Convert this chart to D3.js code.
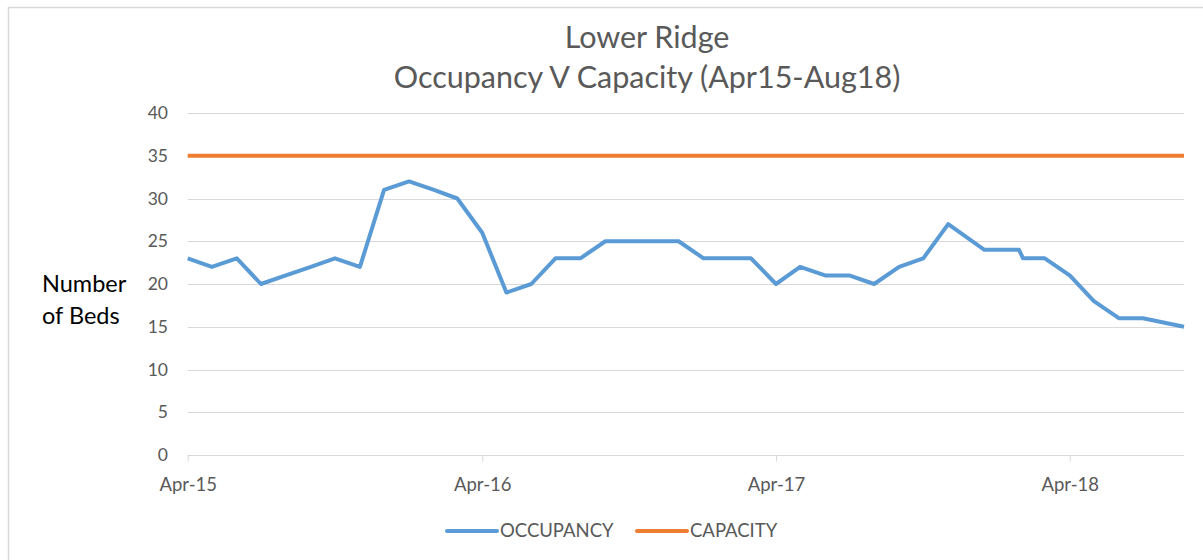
<!DOCTYPE html>
<html>
<head>
<meta charset="utf-8">
<script src="https://cdn.jsdelivr.net/npm/d3@7"></script>
<style>
  html, body { margin: 0; padding: 0; background: #ffffff; }
  svg { display: block; }
</style>
</head>
<body>
<svg id="chart" width="1203" height="560"></svg>
<script>
// ---- Data ----
const titleLines = ["Lower Ridge", "Occupancy V Capacity (Apr15-Aug18)"];
const yAxisTitle = ["Number", "of Beds"];
const dates = [
  "2015-04-01","2015-05-01","2015-06-01","2015-07-01","2015-08-01","2015-09-01",
  "2015-10-01","2015-11-01","2015-12-01","2016-01-01","2016-02-01","2016-03-01",
  "2016-04-01","2016-05-01","2016-06-01","2016-07-01","2016-08-01","2016-09-01",
  "2016-10-01","2016-11-01","2016-12-01","2017-01-01","2017-02-01","2017-03-01",
  "2017-04-01","2017-05-01","2017-06-01","2017-07-01","2017-08-01","2017-09-01",
  "2017-10-01","2017-11-01","2017-12-16","2018-01-28","2018-02-02","2018-03-01",
  "2018-04-01","2018-05-01","2018-06-01","2018-07-01","2018-08-21"
];
const occupancy = [
  23,22,23,20,21,22,
  23,22,31,32,31,30,
  26,19,20,23,23,25,
  25,25,25,23,23,23,
  20,22,21,21,20,22,
  23,27,24,24,23,23,
  21,18,16,16,15
];
const capacity = dates.map(() => 35);
const xTickDates = ["2015-04-01","2016-04-01","2017-04-01","2018-04-01"];
const yTicks = [0,5,10,15,20,25,30,35,40];
const seriesNames = ["OCCUPANCY","CAPACITY"];
const seriesColors = ["#5b9bd5","#ed7d31"];

// ---- Drawing ----
const parse = d3.utcParse("%Y-%m-%d");
const svg = d3.select("#chart");
const font = "Lato, 'Open Sans', sans-serif";
const grey = "#595959";

// chart border
svg.append("path")
  .attr("d", "M8.5,560 L8.5,7.5 L1203,7.5")
  .attr("fill", "none").attr("stroke", "#d9d9d9").attr("stroke-width", 1.5);

const x = d3.scaleUtc()
  .domain([parse(dates[0]), parse(dates[dates.length - 1])])
  .range([187.7, 1184]);
const y = d3.scaleLinear().domain([0, 40]).range([455, 113]);

// gridlines
svg.append("g").selectAll("line").data(yTicks).join("line")
  .attr("x1", x.range()[0]).attr("x2", x.range()[1])
  .attr("y1", d => Math.round(y(d)) + 0.5).attr("y2", d => Math.round(y(d)) + 0.5)
  .attr("stroke", "#d9d9d9").attr("stroke-width", 1);

// y labels
svg.append("g").selectAll("text").data(yTicks).join("text")
  .attr("x", 168).attr("y", d => y(d))
  .attr("dy", "0.35em").attr("text-anchor", "end")
  .attr("font-family", font).attr("font-size", 17.5).attr("fill", grey)
  .text(d => d);

// x axis
const xAxis = d3.axisBottom(x)
  .tickValues(xTickDates.map(parse))
  .tickFormat(d3.utcFormat("%b-%y"))
  .tickSize(6).tickPadding(16);
const gx = svg.append("g").attr("transform", `translate(0,${Math.round(y(0)) + 0.5})`).call(xAxis);
gx.select(".domain").remove();
gx.selectAll(".tick line").attr("stroke", "#d9d9d9");
gx.selectAll(".tick text").attr("font-family", font).attr("font-size", 18.5).attr("fill", grey);

// lines
const line = d3.line().x(d => x(d[0])).y(d => y(d[1]));
const parsedDates = dates.map(parse);
const seriesData = [occupancy, capacity];
seriesData.forEach((vals, i) => {
  svg.append("path")
    .datum(parsedDates.map((d, j) => [d, vals[j]]))
    .attr("fill", "none")
    .attr("stroke", seriesColors[i])
    .attr("stroke-width", 4)
    .attr("stroke-linejoin", "round")
    .attr("stroke-linecap", "butt")
    .attr("d", line);
});

// title
svg.append("g").selectAll("text").data(titleLines).join("text")
  .attr("x", 647).attr("y", (d, i) => 48 + i * 40)
  .attr("text-anchor", "middle")
  .attr("font-family", font).attr("font-size", 30.5).attr("fill", grey)
  .text(d => d);

// y axis title
svg.append("g").selectAll("text").data(yAxisTitle).join("text")
  .attr("x", 42).attr("y", (d, i) => 292 + i * 32)
  .attr("font-family", font).attr("font-size", 23.5).attr("fill", "#000000")
  .text(d => d);

// legend
const legend = svg.append("g");
const legendX = [447, 637];
seriesNames.forEach((name, i) => {
  legend.append("line")
    .attr("x1", legendX[i]).attr("x2", legendX[i] + 50)
    .attr("y1", 531).attr("y2", 531)
    .attr("stroke", seriesColors[i]).attr("stroke-width", 4).attr("stroke-linecap", "round");
  legend.append("text")
    .attr("x", legendX[i] + 53).attr("y", 531).attr("dy", "0.35em")
    .attr("font-family", font).attr("font-size", 18.5).attr("fill", grey)
    .text(name);
});
</script>
</body>
</html>
